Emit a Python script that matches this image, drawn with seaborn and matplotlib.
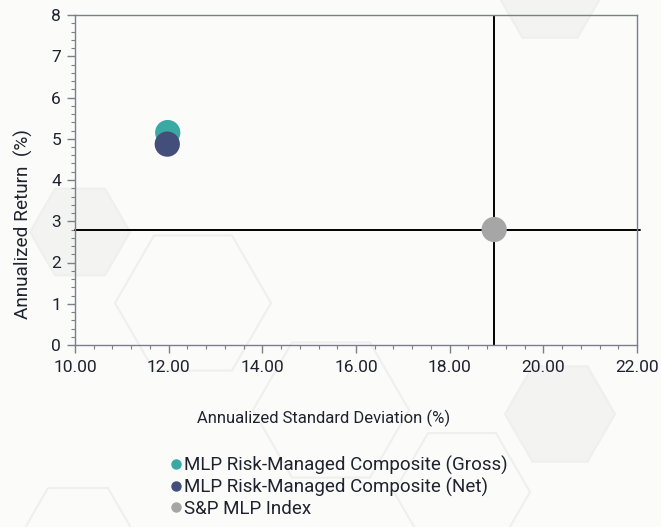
import numpy as np
import pandas as pd
import matplotlib
matplotlib.use("Agg")
import matplotlib.pyplot as plt
from matplotlib.patches import RegularPolygon
from matplotlib.ticker import MultipleLocator, FormatStrFormatter
import seaborn as sns

sns.set_style("white")
plt.rcParams["font.family"] = ["Roboto", "DejaVu Sans"]

# data
series = ["MLP Risk-Managed Composite (Gross)",
          "MLP Risk-Managed Composite (Net)",
          "S&P MLP Index"]
std_dev = [11.98, 11.97, 18.95]
ann_return = [5.15, 4.87, 2.80]
colors = ["#3aa8a3", "#434f7a", "#a6a6a6"]

df = pd.DataFrame({"series": series, "std": std_dev, "ret": ann_return})

BG = "#fbfbf9"
W, H = 661, 527
fig = plt.figure(figsize=(W / 100, H / 100), dpi=100, facecolor=BG)

# faint hexagon decorations in the background (pixel centre, radius, filled)
hexes = [(80, 232, 50, True), (193, 303, 78, False), (331, 410, 78, False),
         (462, 492, 68, False), (560, 414, 55, True), (550, -10, 55, True),
         (78, 540, 60, False)]
for hx, hy, r, filled in hexes:
    fig.patches.append(RegularPolygon((hx / 100, (H - hy) / 100), 6, radius=r / 100,
                                      orientation=np.pi / 6,
                                      transform=fig.dpi_scale_trans,
                                      facecolor="#f3f3f1" if filled else "none",
                                      edgecolor="#efefed", lw=1.5, zorder=-5))

ax = fig.add_axes([75 / W, 1 - 345 / H, 562 / W, 330 / H])
ax.set_facecolor("none")
ax.set_zorder(2)

ax.axvline(std_dev[2], color="black", lw=1.4, zorder=1)
ax.axhline(ann_return[2], color="black", lw=1.4, zorder=1, xmax=1.005, clip_on=False)

sns.scatterplot(data=df, x="std", y="ret", hue="series", palette=colors,
                s=330, edgecolor="none", legend=False, ax=ax, zorder=3)

ax.set_xlim(10, 22)
ax.set_ylim(0, 8)
ax.xaxis.set_major_locator(MultipleLocator(2))
ax.xaxis.set_minor_locator(MultipleLocator(0.4))
ax.yaxis.set_major_locator(MultipleLocator(1))
ax.yaxis.set_minor_locator(MultipleLocator(0.2))
ax.xaxis.set_major_formatter(FormatStrFormatter("%.2f"))

for s in ax.spines.values():
    s.set_color("#7a7f8a")
    s.set_linewidth(1.0)
ax.tick_params(axis="both", which="both", bottom=True, left=True,
               color="#7a7f8a", direction="out")
ax.tick_params(axis="both", which="major", length=6, width=1,
               labelsize=12.5, labelcolor="#1f2330", pad=4)
ax.tick_params(axis="both", which="minor", length=3, width=0.8)
ax.tick_params(axis="x", which="major", pad=5)

ax.set_xlabel("Annualized Standard Deviation (%)", fontsize=12, color="#1f2330")
ax.set_ylabel("Annualized Return  (%)", fontsize=13.7, color="#1f2330")
ax.xaxis.set_label_coords(0.443, -0.197)
ax.yaxis.set_label_coords(-0.075, 0.367)

handles = [plt.Line2D([], [], marker="o", ls="none", color=c, markersize=6.5)
           for c in colors]
fig.legend(handles, series, loc="upper left", bbox_to_anchor=(168 / W, 1 - 456 / H),
           frameon=False, fontsize=13.5, handletextpad=0.05, labelspacing=0.15,
           handlelength=0.8, borderaxespad=0, borderpad=0,
           labelcolor="#1f2330")

fig.savefig("out.png", dpi=100, facecolor=BG)
